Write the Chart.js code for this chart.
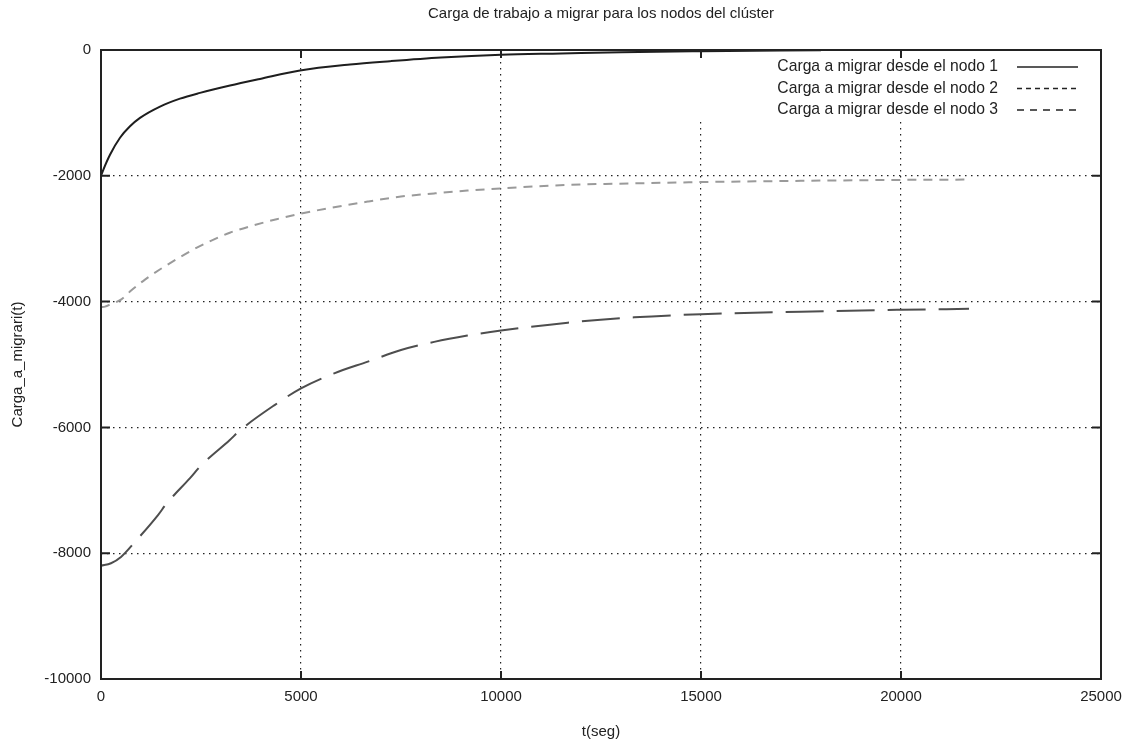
<!DOCTYPE html>
<html>
<head>
<meta charset="utf-8">
<script src="https://cdn.jsdelivr.net/npm/chart.js@4"></script>
<style>
  body { margin: 0; background: #fff; }
  canvas { display: block; }
</style>
</head>
<body>
<canvas id="cargaChart" width="1123" height="741"></canvas>
<script>
// ── Data ─────────────────────────────────

const tiempoNodo1 = [0, 60, 225, 475, 725, 975, 1475, 1975, 2475, 3225, 3975, 4975, 6225, 7225, 8500, 10000, 11500, 13000, 15000, 18000];
const cargaNodo1  = [-2000, -1900, -1665, -1395, -1213, -1080, -900, -773, -682, -565, -460, -326, -231, -178, -120, -75, -55, -35, -20, -5];

const tiempoNodo2 = [0, 100, 250, 510, 760, 1100, 1470, 1890, 2300, 2760, 3220, 3800, 4390, 5000, 6670, 7500, 8330, 9160, 10000, 11670, 13330, 15000, 17500, 20000, 21700];
const cargaNodo2  = [-4090, -4080, -4040, -3965, -3820, -3650, -3490, -3325, -3175, -3030, -2905, -2790, -2690, -2600, -2410, -2330, -2280, -2235, -2200, -2145, -2120, -2100, -2080, -2065, -2060];

const tiempoNodo3 = [0, 250, 500, 850, 1430, 1640, 2220, 2510, 3220, 3470, 4340, 5000, 5830, 6670, 7500, 8330, 9160, 10000, 11670, 13330, 15000, 17500, 20000, 21700];
const cargaNodo3  = [-8200, -8160, -8060, -7820, -7390, -7210, -6810, -6600, -6200, -6050, -5645, -5380, -5140, -4955, -4770, -4640, -4540, -4460, -4335, -4250, -4200, -4160, -4130, -4115];

const etiquetas = [
  'Carga a migrar desde el nodo 1',
  'Carga a migrar desde el nodo 2',
  'Carga a migrar desde el nodo 3'
];

const FONT = '"Liberation Sans", Arial, sans-serif';

function toPoints(ts, vs) {
  return ts.map((t, i) => ({ x: t, y: vs[i] }));
}

// ── Plugins ──────────────────────────────

// gnuplot-style key: text right aligned, line sample on the right,
// white box that hides the grid behind it
const keyPlugin = {
  id: 'gnuKey',
  beforeDatasetsDraw(chart) {
    const { ctx, chartArea: a } = chart;
    const samples = [[], [5, 4], [7, 6]];
    ctx.save();
    ctx.fillStyle = '#fff';
    ctx.fillRect(a.right - 411, a.top + 8, 409, 63);
    ctx.font = '15.7px ' + FONT;
    ctx.textAlign = 'right';
    ctx.textBaseline = 'middle';
    ctx.fillStyle = '#222';
    chart.data.datasets.forEach((ds, i) => {
      const yy = a.top + 17 + i * 21.5;
      ctx.fillText(ds.label, a.right - 103, yy);
      ctx.beginPath();
      ctx.setLineDash(samples[i]);
      ctx.strokeStyle = '#222';
      ctx.lineWidth = 1.5;
      ctx.moveTo(a.right - 84, yy);
      ctx.lineTo(a.right - 23, yy);
      ctx.stroke();
    });
    ctx.restore();
  }
};

// frame + inward tick marks on all four sides
const framePlugin = {
  id: 'frame',
  afterDatasetsDraw(chart) {
    const { ctx, chartArea: a, scales: { x, y } } = chart;
    ctx.save();
    ctx.strokeStyle = '#222';
    ctx.lineWidth = 2;
    ctx.setLineDash([]);
    ctx.strokeRect(a.left, a.top, a.right - a.left, a.bottom - a.top);
    ctx.beginPath();
    x.ticks.forEach(t => {
      const px = x.getPixelForValue(t.value);
      ctx.moveTo(px, a.bottom); ctx.lineTo(px, a.bottom - 8);
      ctx.moveTo(px, a.top);    ctx.lineTo(px, a.top + 8);
    });
    y.ticks.forEach(t => {
      const py = y.getPixelForValue(t.value);
      ctx.moveTo(a.left, py);  ctx.lineTo(a.left + 9, py);
      ctx.moveTo(a.right, py); ctx.lineTo(a.right - 9, py);
    });
    ctx.stroke();
    ctx.restore();
  }
};

// ── Chart ────────────────────────────────

const gridOpts = {
  color: '#222',
  lineWidth: 1.2,
  drawTicks: false
};

const plain = v => String(v);

const chart = new Chart(document.getElementById('cargaChart').getContext('2d'), {
  type: 'line',
  data: {
    datasets: [
      {
        label: etiquetas[0],
        data: toPoints(tiempoNodo1, cargaNodo1),
        borderColor: '#1e1e1e',
        borderWidth: 2,
        pointRadius: 0,
        cubicInterpolationMode: 'monotone'
      },
      {
        label: etiquetas[1],
        data: toPoints(tiempoNodo2, cargaNodo2),
        borderColor: '#9a9a9a',
        borderWidth: 2,
        borderDash: [9, 7],
        pointRadius: 0,
        cubicInterpolationMode: 'monotone'
      },
      {
        label: etiquetas[2],
        data: toPoints(tiempoNodo3, cargaNodo3),
        borderColor: '#4e4e4e',
        borderWidth: 2,
        borderDash: [38, 13],
        pointRadius: 0,
        cubicInterpolationMode: 'monotone'
      }
    ]
  },
  options: {
    responsive: false,
    animation: false,
    layout: { padding: { left: 0, right: 22, top: 0, bottom: 0 } },
    plugins: {
      legend: { display: false },
      tooltip: { enabled: false },
      title: {
        display: true,
        fullSize: false,
        text: 'Carga de trabajo a migrar para los nodos del clúster',
        color: '#222',
        font: { family: FONT, size: 15, weight: 'normal', lineHeight: 1.2 },
        padding: { top: 5, bottom: 27 }
      }
    },
    scales: {
      x: {
        type: 'linear',
        min: 0,
        max: 25000,
        afterFit(s) { s.height = 62; s.paddingLeft = 0; s.paddingRight = 0; },
        ticks: { stepSize: 5000, color: '#222', padding: 9, maxRotation: 0,
                 callback: plain, font: { family: FONT, size: 15 } },
        grid: gridOpts,
        border: { display: false, dash: [1.5, 4.5] },
        title: {
          display: true, text: 't(seg)', color: '#222',
          font: { family: FONT, size: 15, lineHeight: 1.2 },
          padding: { top: 0, bottom: 0 }
        }
      },
      y: {
        min: -10000,
        max: 0,
        afterFit(s) { s.width = 101; s.paddingTop = 0; s.paddingBottom = 0; },
        ticks: { stepSize: 2000, color: '#222', padding: 10,
                 callback: plain, font: { family: FONT, size: 15 } },
        grid: gridOpts,
        border: { display: false, dash: [1.5, 4.5] },
        title: {
          display: true, text: 'Carga_a_migrari(t)', color: '#222',
          font: { family: FONT, size: 15, lineHeight: 1.2 },
          padding: { top: 9, bottom: 0 }
        }
      }
    }
  },
  plugins: [keyPlugin, framePlugin]
});
</script>
</body>
</html>
